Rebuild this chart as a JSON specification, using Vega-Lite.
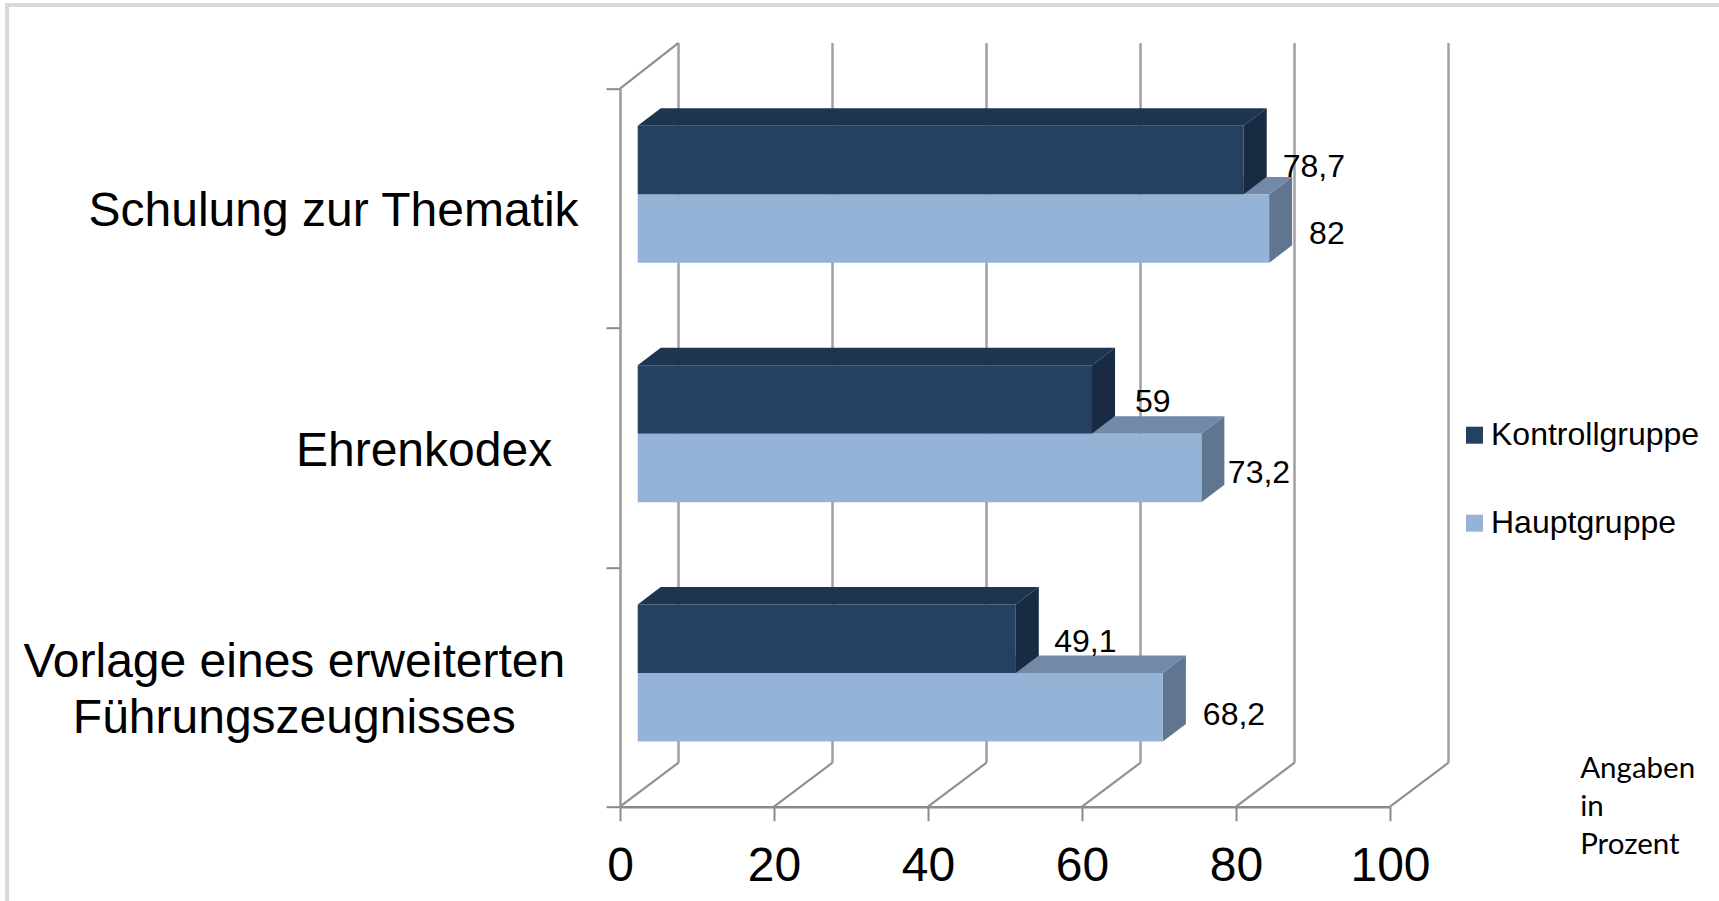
{
  "$schema": "https://vega.github.io/schema/vega-lite/v6.json",
  "autosize": "none",
  "width": 770,
  "height": 718,
  "padding": {"left": 620, "top": 88.7, "right": 329, "bottom": 94.3},
  "background": "white",
  "config": {"view": {"stroke": null}},
  "data": {"values": [
    {"thema": "Schulung zur Thematik", "gruppe": "Kontrollgruppe", "wert": 78.7},
    {"thema": "Schulung zur Thematik", "gruppe": "Hauptgruppe", "wert": 82},
    {"thema": "Ehrenkodex", "gruppe": "Kontrollgruppe", "wert": 59},
    {"thema": "Ehrenkodex", "gruppe": "Hauptgruppe", "wert": 73.2},
    {"thema": "Vorlage eines erweiterten Führungszeugnisses", "gruppe": "Kontrollgruppe", "wert": 49.1},
    {"thema": "Vorlage eines erweiterten Führungszeugnisses", "gruppe": "Hauptgruppe", "wert": 68.2}
  ]},
  "transform": [
    {"calculate": "indexof(['Vorlage eines erweiterten Führungszeugnisses','Ehrenkodex','Schulung zur Thematik'], datum.thema)", "as": "slot"},
    {"calculate": "datum.slot + (datum.gruppe === 'Kontrollgruppe' ? 0.559 : 0.2725)", "as": "unten"},
    {"calculate": "datum.unten + 0.2858", "as": "oben"},
    {"calculate": "datum.wert + 2.3", "as": "ende"}
  ],
  "layer": [
    {
      "data": {"values": [{"rahmen": 1}]},
      "mark": {"type": "rect", "fillOpacity": 0, "stroke": "#D9D9D9", "strokeWidth": 4},
      "encoding": {
        "x": {
          "datum": -79.6, "type": "quantitative",
          "scale": {"domain": [0, 100], "nice": false, "zero": false, "padding": 0},
          "axis": {
            "values": [0, 20, 40, 60, 80, 100], "title": null, "grid": false,
            "domainColor": "#8A8A8A", "domainWidth": 2.5, "tickColor": "#8A8A8A", "tickWidth": 2, "tickSize": 14,
            "labelFont": "Liberation Sans", "labelFontSize": 48, "labelColor": "black", "labelFlush": false,
            "labelBaseline": "alphabetic", "labelPadding": 60, "labelOverlap": false
          }
        },
        "x2": {"datum": 143},
        "y": {
          "datum": 3.35, "type": "quantitative",
          "scale": {"domain": [0, 3], "nice": false, "zero": false, "padding": 0},
          "axis": {
            "values": [0, 1, 2, 3], "title": null, "grid": false, "labels": false,
            "domainColor": "#999999", "domainWidth": 2.5, "tickColor": "#8A8A8A", "tickWidth": 2, "tickSize": 14
          }
        },
        "y2": {"datum": -0.45}
      }
    },
    {
      "data": {"values": [{"tick": 0}, {"tick": 20}, {"tick": 40}, {"tick": 60}, {"tick": 80}, {"tick": 100}]},
      "transform": [{"calculate": "datum.tick + 7.6", "as": "hinten"}],
      "mark": {"type": "rule", "stroke": "#A0A0A0", "strokeWidth": 2.5},
      "encoding": {
        "x": {"field": "hinten", "type": "quantitative"},
        "y": {"datum": 0.1838, "type": "quantitative"},
        "y2": {"datum": 3.191}
      }
    },
    {
      "data": {"values": [{"tick": 0}, {"tick": 20}, {"tick": 40}, {"tick": 60}, {"tick": 80}, {"tick": 100}]},
      "transform": [{"calculate": "datum.tick + 7.6", "as": "hinten"}],
      "mark": {"type": "rule", "stroke": "#8F8F8F", "strokeWidth": 2.2},
      "encoding": {
        "x": {"field": "tick", "type": "quantitative"},
        "x2": {"field": "hinten"},
        "y": {"datum": 0, "type": "quantitative"},
        "y2": {"datum": 0.1838}
      }
    },
    {
      "data": {"values": [{"wand": 1}]},
      "mark": {"type": "rule", "stroke": "#8F8F8F", "strokeWidth": 2.2},
      "encoding": {
        "x": {"datum": 0, "type": "quantitative"},
        "x2": {"datum": 7.6},
        "y": {"datum": 3, "type": "quantitative"},
        "y2": {"datum": 3.191}
      }
    },
    {
      "transform": [
        {"filter": "datum.gruppe === 'Hauptgruppe'"},
        {"calculate": "[0, 1]", "as": "ecke"},
        {"flatten": ["ecke"]},
        {"calculate": "2.3 + datum.ecke * 2.99", "as": "xa"},
        {"calculate": "datum.ende + datum.ecke * 2.99", "as": "xb"},
        {"calculate": "datum.oben + datum.ecke * 0.0731", "as": "yk"}
      ],
      "mark": {"type": "area", "orient": "horizontal", "color": "#7289A8"},
      "encoding": {
        "x": {"field": "xa", "type": "quantitative"},
        "x2": {"field": "xb"},
        "y": {"field": "yk", "type": "quantitative"},
        "detail": {"field": "thema"}
      }
    },
    {
      "transform": [
        {"filter": "datum.gruppe === 'Hauptgruppe'"},
        {"calculate": "[0, 1]", "as": "ecke"},
        {"flatten": ["ecke"]},
        {"calculate": "datum.ende + datum.ecke * 2.99", "as": "xk"},
        {"calculate": "datum.unten + datum.ecke * 0.0731", "as": "ya"},
        {"calculate": "datum.oben + datum.ecke * 0.0731", "as": "yb"}
      ],
      "mark": {"type": "area", "orient": "vertical", "color": "#60758F"},
      "encoding": {
        "x": {"field": "xk", "type": "quantitative"},
        "y": {"field": "ya", "type": "quantitative"},
        "y2": {"field": "yb"},
        "detail": {"field": "thema"}
      }
    },
    {
      "transform": [{"filter": "datum.gruppe === 'Hauptgruppe'"}],
      "mark": {"type": "bar", "orient": "horizontal", "xOffset": 17.7, "x2Offset": 17.7},
      "encoding": {
        "x": {"field": "wert", "type": "quantitative"},
        "x2": {"datum": 0},
        "y": {"field": "unten", "type": "quantitative"},
        "y2": {"field": "oben"},
        "color": {
          "field": "gruppe", "type": "nominal",
          "scale": {"domain": ["Kontrollgruppe", "Hauptgruppe"], "range": ["#254061", "#95B3D7"]},
          "legend": {
            "title": null, "orient": "none", "legendX": 838.5, "legendY": 330.5,
            "symbolType": "square", "symbolSize": 289, "symbolStrokeWidth": 0, "symbolOpacity": 1,
            "labelFont": "Liberation Sans", "labelFontSize": 32, "labelColor": "black", "labelOffset": 0.5,
            "rowPadding": 56, "padding": 0, "labelLimit": 300
          }
        }
      }
    },
    {
      "transform": [
        {"filter": "datum.gruppe === 'Kontrollgruppe'"},
        {"calculate": "[0, 1]", "as": "ecke"},
        {"flatten": ["ecke"]},
        {"calculate": "2.3 + datum.ecke * 2.99", "as": "xa"},
        {"calculate": "datum.ende + datum.ecke * 2.99", "as": "xb"},
        {"calculate": "datum.oben + datum.ecke * 0.0731", "as": "yk"}
      ],
      "mark": {"type": "area", "orient": "horizontal", "color": "#1E3550"},
      "encoding": {
        "x": {"field": "xa", "type": "quantitative"},
        "x2": {"field": "xb"},
        "y": {"field": "yk", "type": "quantitative"},
        "detail": {"field": "thema"}
      }
    },
    {
      "transform": [
        {"filter": "datum.gruppe === 'Kontrollgruppe'"},
        {"calculate": "[0, 1]", "as": "ecke"},
        {"flatten": ["ecke"]},
        {"calculate": "datum.ende + datum.ecke * 2.99", "as": "xk"},
        {"calculate": "datum.unten + datum.ecke * 0.0731", "as": "ya"},
        {"calculate": "datum.oben + datum.ecke * 0.0731", "as": "yb"}
      ],
      "mark": {"type": "area", "orient": "vertical", "color": "#182B43"},
      "encoding": {
        "x": {"field": "xk", "type": "quantitative"},
        "y": {"field": "ya", "type": "quantitative"},
        "y2": {"field": "yb"},
        "detail": {"field": "thema"}
      }
    },
    {
      "transform": [{"filter": "datum.gruppe === 'Kontrollgruppe'"}],
      "mark": {"type": "bar", "orient": "horizontal", "xOffset": 17.7, "x2Offset": 17.7},
      "encoding": {
        "x": {"field": "wert", "type": "quantitative"},
        "x2": {"datum": 0},
        "y": {"field": "unten", "type": "quantitative"},
        "y2": {"field": "oben"},
        "color": {"field": "gruppe", "type": "nominal"}
      }
    },
    {
      "transform": [
        {"calculate": "(datum.unten + datum.oben) / 2", "as": "mitte"},
        {"calculate": "replace(datum.wert + '', '.', ',')", "as": "beschriftung"}
      ],
      "mark": {
        "type": "text", "align": "left", "baseline": "alphabetic",
        "font": "Liberation Sans", "fontSize": 32, "color": "black",
        "dx": {"expr": "17.7 + ({'78.7': 39, '82': 40, '59': 43, '73.2': 26.5, '49.1': 38.5, '68.2': 40})[datum.wert + '']"},
        "dy": {"expr": "({'78.7': 16.5, '82': 15.5, '59': 13, '73.2': 15, '49.1': 13.7, '68.2': 18})[datum.wert + '']"}
      },
      "encoding": {
        "x": {"field": "wert", "type": "quantitative"},
        "y": {"field": "mitte", "type": "quantitative"},
        "text": {"field": "beschriftung", "type": "nominal"}
      }
    },
    {
      "data": {"values": [{"name": "Schulung zur Thematik"}]},
      "mark": {"type": "text", "align": "center", "baseline": "alphabetic", "font": "Liberation Sans", "fontSize": 48, "color": "black"},
      "encoding": {
        "x": {"datum": -37.2, "type": "quantitative"},
        "y": {"datum": 2.428, "type": "quantitative"},
        "text": {"field": "name"}
      }
    },
    {
      "data": {"values": [{"name": "Ehrenkodex"}]},
      "mark": {"type": "text", "align": "center", "baseline": "alphabetic", "font": "Liberation Sans", "fontSize": 48, "color": "black"},
      "encoding": {
        "x": {"datum": -25.45, "type": "quantitative"},
        "y": {"datum": 1.424, "type": "quantitative"},
        "text": {"field": "name"}
      }
    },
    {
      "data": {"values": [{"name": "Vorlage eines erweiterten|Führungszeugnisses"}]},
      "mark": {"type": "text", "align": "center", "baseline": "alphabetic", "lineBreak": "|", "lineHeight": 56, "font": "Liberation Sans", "fontSize": 48, "color": "black"},
      "encoding": {
        "x": {"datum": -42.3, "type": "quantitative"},
        "y": {"datum": 0.54, "type": "quantitative"},
        "text": {"field": "name"}
      }
    },
    {
      "data": {"values": [{"name": "Angaben|in|Prozent"}]},
      "mark": {"type": "text", "align": "left", "baseline": "alphabetic", "lineBreak": "|", "lineHeight": 38, "font": "Lato", "fontSize": 29.5, "color": "black"},
      "encoding": {
        "x": {"datum": 124.7, "type": "quantitative"},
        "y": {"datum": 0.122, "type": "quantitative"},
        "text": {"field": "name"}
      }
    }
  ]
}
